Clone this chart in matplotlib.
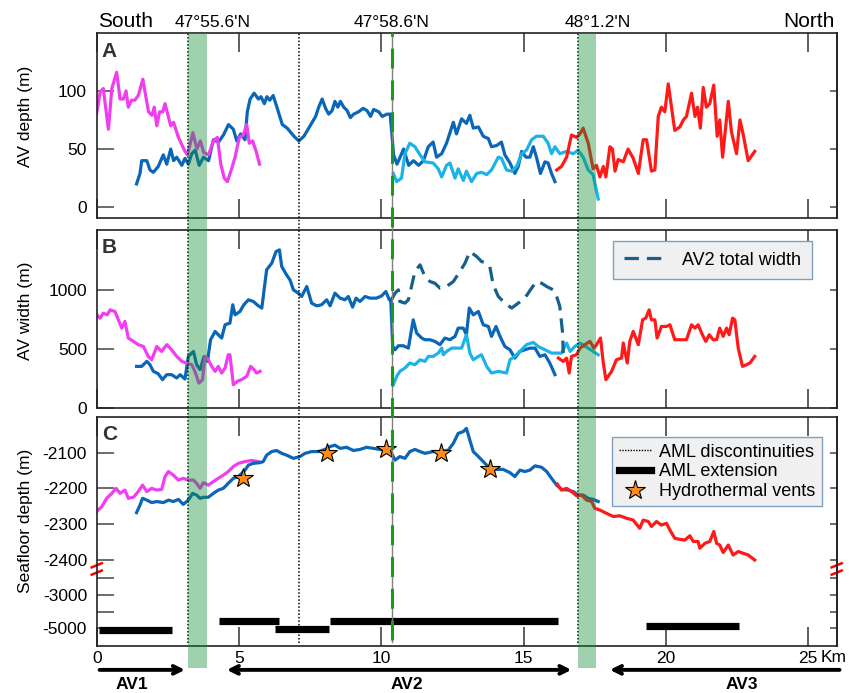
import numpy as np
import matplotlib
matplotlib.use("Agg")
import matplotlib.pyplot as plt
from matplotlib import transforms
from matplotlib.lines import Line2D
from matplotlib.patches import Rectangle

plt.rcParams['font.family'] = ['Liberation Sans', 'DejaVu Sans']

C_AV1 = '#f23cf0'
C_AV2 = '#0b66b8'
C_AV2B = '#1ab4e8'
C_AV3 = '#ff1a1a'
C_TOT = '#175f8c'
C_BAND = '#128e37'

# ---------------- panel A : AV depth (m)
a_av1_km = [0, 0.12, 0.23, 0.41, 0.53, 0.70, 0.82, 0.94, 1.03, 1.11, 1.22, 1.34, 1.46, 1.62, 1.82,
            1.94, 2.02, 2.11, 2.21, 2.32, 2.40, 2.60, 2.70, 2.87, 3.10, 3.19, 3.38, 3.52, 3.64, 3.76,
            3.93, 4.10, 4.24, 4.36, 4.48, 4.59, 4.74, 4.86, 5.01, 5.15, 5.27, 5.36, 5.48, 5.60, 5.72]
a_av1 = [81, 99, 102, 67, 102, 116, 93, 93, 100, 86, 92, 92, 96, 110, 82,
         79, 86, 70, 82, 82, 89, 70, 73, 60, 48, 45, 64, 50, 57, 47,
         45, 57, 60, 37, 25, 22, 33, 43, 60, 62, 71, 55, 57, 48, 37]

a_av2_km = [1.40, 1.52, 1.58, 1.76, 1.87, 1.99, 2.16, 2.34, 2.46, 2.60,
            2.70, 2.81, 2.99, 3.10, 3.22, 3.34, 3.46, 3.60, 3.75, 3.93,
            4.10, 4.28, 4.45, 4.63, 4.80, 4.92, 5.06, 5.21, 5.29, 5.39,
            5.53, 5.68, 5.77, 5.89, 5.98, 6.08, 6.20, 6.33, 6.52, 6.69,
            6.93, 7.10, 7.28, 7.45, 7.69, 7.80, 7.92, 8.04, 8.15, 8.27,
            8.37, 8.47, 8.56, 8.68, 8.80, 8.91, 9.03, 9.20, 9.36, 9.50,
            9.62, 9.73, 9.91, 10.03, 10.20, 10.31, 10.37, 10.43, 10.55, 10.66,
            10.78, 10.96, 11.13, 11.31, 11.48, 11.65, 11.82, 11.94, 12.12, 12.29,
            12.53, 12.64, 12.82, 12.99, 13.11, 13.23, 13.41, 13.58, 13.76, 13.87,
            14.05, 14.22, 14.34, 14.52, 14.69, 14.81, 14.93, 15.08, 15.22, 15.34,
            15.45, 15.59, 15.75, 15.86, 15.98, 16.10]
a_av2 = [20, 29, 40, 40, 32, 30, 35, 45, 37, 50,
         40, 43, 36, 42, 37, 46, 49, 36, 43, 40,
         58, 56, 62, 71, 67, 57, 63, 58, 82, 93,
         98, 93, 95, 89, 95, 92, 96, 86, 71, 68,
         61, 57, 61, 68, 78, 86, 93, 85, 80, 83,
         91, 86, 91, 86, 83, 77, 80, 82, 85, 83,
         78, 84, 82, 78, 80, 80, 63, 45, 37, 43,
         50, 36, 40, 36, 40, 52, 56, 43, 46, 55,
         73, 63, 76, 72, 79, 68, 69, 61, 59, 52,
         53, 56, 45, 38, 29, 35, 48, 43, 43, 52,
         43, 29, 39, 38, 29, 22]

a_av2b_km = [10.42, 10.54, 10.71, 10.83, 11.00, 11.18, 11.36, 11.53, 11.82, 12.00,
             12.12, 12.29, 12.41, 12.59, 12.70, 12.88, 12.99, 13.17, 13.35, 13.52,
             13.70, 13.87, 14.11, 14.22, 14.40, 14.58, 14.75, 14.93, 15.10, 15.28,
             15.45, 15.69, 15.86, 15.98, 16.10, 16.27, 16.51, 16.74, 16.92, 17.09,
             17.27, 17.44, 17.62]
a_av2b = [29, 22, 25, 46, 55, 52, 45, 39, 38, 33,
          26, 36, 38, 25, 33, 23, 31, 22, 29, 30,
          28, 32, 43, 42, 32, 31, 35, 46, 49, 58,
          61, 61, 55, 46, 52, 46, 48, 46, 49, 43,
          32, 28, 7]

a_av3_km = [16.16, 16.33, 16.51, 16.68, 16.86, 16.98, 17.09, 17.27, 17.44, 17.56,
            17.68, 17.80, 17.89, 18.03, 18.12, 18.21, 18.32, 18.50, 18.67, 18.85,
            19.03, 19.20, 19.32, 19.49, 19.61, 19.73, 19.84, 19.96, 20.08, 20.31,
            20.49, 20.61, 20.72, 20.90, 21.02, 21.11, 21.21, 21.31, 21.42, 21.54,
            21.68, 21.80, 21.89, 21.99, 22.19, 22.30, 22.48, 22.60, 22.71, 22.89,
            23.12]
a_av3 = [32, 35, 43, 62, 60, 63, 68, 55, 33, 36,
         26, 35, 26, 52, 50, 31, 41, 39, 50, 42,
         29, 58, 58, 31, 32, 78, 86, 82, 106, 66,
         69, 75, 78, 98, 78, 86, 68, 103, 86, 89,
         105, 61, 75, 43, 91, 65, 46, 75, 63, 40,
         48]

# ---------------- panel B : AV width (m)
b_av1_km = [0, 0.12, 0.23, 0.37, 0.47, 0.64, 0.76, 0.88, 0.99, 1.11,
            1.29, 1.46, 1.64, 1.81, 1.93, 2.11, 2.28, 2.46, 2.63, 2.81,
            2.99, 3.16, 3.34, 3.45, 3.59, 3.72, 3.80, 3.92, 4.04, 4.16,
            4.27, 4.39, 4.51, 4.62, 4.68, 4.80, 4.94, 5.09, 5.27, 5.41,
            5.53, 5.62, 5.74]
b_av1 = [789, 761, 803, 789, 831, 817, 747, 677, 733, 593,
         565, 537, 522, 438, 410, 522, 480, 537, 494, 438,
         396, 382, 368, 312, 213, 242, 438, 410, 354, 312,
         354, 298, 340, 452, 452, 199, 228, 242, 270, 354,
         326, 298, 312]

b_av2_km = [1.40, 1.58, 1.76, 1.87, 1.99, 2.16, 2.31, 2.46, 2.63, 2.81,
            2.93, 3.10, 3.22, 3.40, 3.51, 3.63, 3.77, 3.89, 4.00, 4.16,
            4.27, 4.39, 4.51, 4.68, 4.78, 4.86, 5.03, 5.17, 5.33, 5.50,
            5.68, 5.80, 5.97, 6.15, 6.30, 6.42, 6.50, 6.67, 6.79, 6.91,
            7.08, 7.20, 7.38, 7.55, 7.73, 7.90, 8.08, 8.20, 8.37, 8.55,
            8.72, 8.84, 8.99, 9.11, 9.25, 9.43, 9.60, 9.83, 10.01, 10.16,
            10.28, 10.33, 10.40, 10.48, 10.60, 10.77, 10.95, 11.12, 11.24, 11.42,
            11.53, 11.71, 11.88, 12.06, 12.23, 12.41, 12.59, 12.70, 12.88, 12.99,
            13.09, 13.23, 13.41, 13.58, 13.76, 13.87, 14.03, 14.17, 14.34, 14.52,
            14.69, 14.87, 15.04, 15.22, 15.40, 15.57, 15.75, 15.92, 16.10]
b_av2 = [354, 354, 396, 368, 312, 292, 242, 284, 284, 256,
         284, 247, 438, 480, 368, 326, 438, 396, 579, 649,
         621, 593, 705, 719, 874, 789, 817, 874, 916, 902,
         865, 846, 1169, 1225, 1323, 1337, 1197, 1126, 1084, 1000,
         972, 944, 1028, 888, 865, 874, 916, 865, 972, 930,
         916, 944, 854, 930, 902, 944, 930, 930, 949, 986,
         916, 921, 522, 494, 528, 528, 508, 747, 635, 593,
         579, 579, 565, 537, 593, 579, 607, 677, 677, 621,
         846, 789, 817, 705, 691, 607, 691, 607, 522, 494,
         424, 480, 494, 508, 508, 438, 452, 382, 284]

b_av2b_km = [10.42, 10.54, 10.65, 10.83, 11.00, 11.18, 11.36, 11.53, 11.65, 11.82,
             12.00, 12.12, 12.18, 12.29, 12.47, 12.64, 12.82, 12.99, 13.11, 13.23,
             13.41, 13.52, 13.70, 13.87, 14.11, 14.40, 14.52, 14.69, 14.87, 15.10,
             15.34, 15.51, 15.75, 15.98, 16.33, 16.51, 16.63, 16.80, 16.98, 17.27,
             17.44, 17.62]
b_av2b = [199, 270, 312, 340, 382, 368, 410, 396, 438, 438,
          466, 508, 452, 480, 508, 508, 508, 621, 466, 410,
          438, 452, 354, 298, 312, 298, 410, 438, 480, 537,
          556, 522, 494, 466, 466, 551, 480, 522, 551, 508,
          480, 452]

b_total_km = [10.36, 10.48, 10.60, 10.65, 10.83, 10.95, 11.06, 11.18, 11.36, 11.53,
              11.71, 11.88, 12.06, 12.29, 12.53, 12.76, 12.94, 13.11, 13.35, 13.52,
              13.70, 13.81, 13.93, 14.11, 14.34, 14.58, 14.81, 15.04, 15.28, 15.45,
              15.63, 15.81, 16.04, 16.16, 16.27, 16.37, 16.39]
b_total = [916, 972, 1000, 902, 888, 916, 1028, 1155, 1211, 1112,
           1070, 1056, 1014, 1028, 1070, 1155, 1225, 1323, 1281, 1239,
           1225, 1197, 1042, 944, 888, 846, 888, 930, 1014, 1070,
           1056, 1028, 1000, 944, 860, 635, 466]

b_av3_km = [16.22, 16.39, 16.51, 16.60, 16.68, 16.86, 16.98, 17.15, 17.33, 17.47,
            17.56, 17.70, 17.80, 17.89, 18.09, 18.26, 18.44, 18.50, 18.64, 18.73,
            18.85, 19.03, 19.18, 19.29, 19.41, 19.49, 19.61, 19.69, 19.84, 20.02,
            20.14, 20.31, 20.49, 20.72, 20.90, 21.02, 21.13, 21.28, 21.40, 21.52,
            21.66, 21.78, 21.89, 22.01, 22.13, 22.22, 22.34, 22.42, 22.54, 22.69,
            22.83, 22.95, 23.12]
b_av3 = [424, 396, 424, 298, 438, 452, 508, 537, 565, 508,
         537, 593, 382, 242, 312, 410, 424, 551, 382, 565,
         649, 537, 747, 761, 831, 747, 747, 593, 691, 691,
         705, 579, 579, 579, 705, 677, 705, 621, 565, 621,
         579, 579, 677, 607, 677, 621, 761, 747, 508, 354,
         368, 382, 438]

# ---------------- panel C : seafloor depth (m)
c_av1_km = [0, 0.18, 0.35, 0.53, 0.68, 0.82, 0.99, 1.11, 1.29, 1.46,
            1.61, 1.76, 1.93, 2.11, 2.28, 2.40, 2.52, 2.69, 2.87, 3.04,
            3.22, 3.40, 3.51, 3.63, 3.75, 3.92, 4.10, 4.27, 4.45, 4.62,
            4.80, 4.98, 5.21, 5.44, 5.68]
c_av1 = [-2265, -2251, -2228, -2214, -2200, -2214, -2205, -2228, -2225, -2209,
         -2191, -2209, -2200, -2205, -2203, -2167, -2153, -2163, -2177, -2172,
         -2177, -2177, -2186, -2200, -2184, -2191, -2181, -2172, -2163, -2153,
         -2139, -2130, -2125, -2122, -2125]

c_av2_km = [1.40, 1.52, 1.61, 1.76, 1.93, 2.11, 2.34, 2.52, 2.69, 2.87,
            3.04, 3.22, 3.37, 3.51, 3.63, 3.75, 3.92, 4.10, 4.27, 4.45,
            4.62, 4.80, 4.98, 5.21, 5.33, 5.50, 5.74, 5.85, 5.97, 6.15,
            6.32, 6.50, 6.67, 6.91, 7.14, 7.32, 7.55, 7.79, 8.02, 8.20,
            8.37, 8.55, 8.78, 9.02, 9.25, 9.48, 9.72, 9.95, 10.18, 10.36,
            10.48, 10.65, 10.83, 11.00, 11.18, 11.36, 11.53, 11.82, 12.09, 12.35,
            12.53, 12.70, 12.88, 12.99, 13.11, 13.23, 13.41, 13.58, 13.81, 14.05,
            14.28, 14.52, 14.69, 14.87, 15.04, 15.22, 15.40, 15.63, 15.81, 15.98,
            16.16, 16.33, 16.57, 16.74, 16.92, 17.09, 17.27, 17.44, 17.62]
c_av2 = [-2268, -2247, -2228, -2233, -2240, -2237, -2240, -2233, -2237, -2231,
         -2245, -2233, -2214, -2219, -2228, -2225, -2225, -2214, -2205, -2200,
         -2186, -2172, -2167, -2149, -2135, -2130, -2128, -2125, -2107, -2097,
         -2094, -2102, -2107, -2116, -2111, -2102, -2097, -2097, -2091, -2083,
         -2079, -2088, -2085, -2094, -2091, -2085, -2088, -2091, -2093, -2102,
         -2121, -2111, -2116, -2097, -2091, -2097, -2102, -2097, -2097, -2093,
         -2074, -2046, -2041, -2032, -2065, -2097, -2111, -2125, -2144, -2147,
         -2147, -2156, -2167, -2149, -2153, -2149, -2137, -2141, -2153, -2172,
         -2191, -2203, -2205, -2209, -2219, -2219, -2228, -2231, -2237]

c_av3_km = [16.18, 16.33, 16.51, 16.68, 16.86, 17.04, 17.21, 17.39, 17.50, 17.68,
            17.91, 18.15, 18.38, 18.62, 18.85, 19.08, 19.20, 19.38, 19.49, 19.67,
            19.84, 20.02, 20.14, 20.31, 20.49, 20.66, 20.84, 20.96, 21.13, 21.19,
            21.37, 21.54, 21.68, 21.78, 21.89, 22.01, 22.19, 22.36, 22.54, 22.71,
            22.89, 23.12]
c_av3 = [-2188, -2205, -2200, -2209, -2221, -2219, -2233, -2237, -2256, -2261,
         -2270, -2279, -2277, -2284, -2289, -2312, -2289, -2293, -2307, -2293,
         -2303, -2298, -2317, -2340, -2343, -2345, -2333, -2349, -2349, -2368,
         -2354, -2349, -2321, -2354, -2359, -2380, -2359, -2387, -2377, -2382,
         -2387, -2401]

vent_km = [5.15, 8.08, 10.16, 12.09, 13.81]
vent_depth = [-2172, -2100, -2090, -2100, -2146]

aml_start = [0.08, 4.30, 6.28, 8.20, 19.29]
aml_end = [2.63, 6.42, 8.15, 16.21, 22.55]
aml_depth = [-5110, -4560, -5050, -4560, -4850]

aml_gaps = [3.2, 7.1, 16.9]
overlap_zones = [(3.2, 3.86), (16.9, 17.56)]
av2_split = 10.36

lat_km = [4.07, 10.36, 17.6]
lat_labels = ["47°55.6'N", "47°58.6'N", "48°1.2'N"]


def brk(d):
    # broken depth axis: -3000 and -5000 squeezed below -2400
    return np.interp(d, [-6000, -5000, -3000, -2400, -2000],
                     [-2638, -2592, -2500, -2400, -2000])


fig = plt.figure(figsize=(8.53, 6.93), dpi=100)
L, W = 0.1134, 0.8675
axA = fig.add_axes([L, 0.6859, W, 0.2669])
axB = fig.add_axes([L, 0.4108, W, 0.2573], sharex=axA)
axC = fig.add_axes([L, 0.0683, W, 0.3295], sharex=axA)


def style(ax, yticks, minor=()):
    ax.set_xlim(0, 26)
    ax.set_xticks([0, 5, 10, 15, 20, 25])
    ax.tick_params(axis='x', direction='in', length=13.5, width=1.1, top=True,
                   bottom=True, labelbottom=False, color='#333')
    ax.set_yticks(yticks)
    ax.set_yticks(minor, minor=True)
    ax.tick_params(axis='y', which='both', direction='in', length=12, width=1.1,
                   left=True, right=False, pad=7, labelsize=12.5, color='#444')
    sec = ax.secondary_yaxis('right')
    sec.set_yticks(list(yticks) + list(minor))
    sec.tick_params(direction='in', length=5, width=1.1, labelright=False, color='#444')
    sec.spines['right'].set_linewidth(1.2)
    sec.spines['right'].set_color('#222')
    for s in ax.spines.values():
        s.set_linewidth(1.2)
        s.set_color('#222')


lw = 2.3
# A
axA.plot(a_av2_km, a_av2, color=C_AV2, lw=lw)
axA.plot(a_av2b_km, a_av2b, color=C_AV2B, lw=lw)
axA.plot(a_av1_km, a_av1, color=C_AV1, lw=lw)
axA.plot(a_av3_km, a_av3, color=C_AV3, lw=lw)
axA.set_ylim(-9, 150)
style(axA, [0, 50, 100])
axA.set_ylabel('AV depth (m)', fontsize=12.5)

# B
axB.plot(b_av2_km, b_av2, color=C_AV2, lw=lw)
axB.plot(b_av2b_km, b_av2b, color=C_AV2B, lw=lw)
axB.plot(b_total_km, b_total, color=C_TOT, lw=lw, ls=(0, (4.5, 2.5)))
axB.plot(b_av1_km, b_av1, color=C_AV1, lw=lw)
axB.plot(b_av3_km, b_av3, color=C_AV3, lw=lw)
axB.set_ylim(0, 1505)
style(axB, [0, 500, 1000])
axB.set_ylabel('AV width (m)', fontsize=12.5)

# C
axC.plot(c_av1_km, c_av1, color=C_AV1, lw=lw)
axC.plot(c_av2_km, c_av2, color=C_AV2, lw=lw)
axC.plot(c_av3_km, c_av3, color=C_AV3, lw=lw)
for x0, x1, d in zip(aml_start, aml_end, aml_depth):
    yb = brk(d)
    axC.plot([x0, x1], [yb, yb], color='black', lw=5.2, solid_capstyle='butt')
axC.plot(vent_km, vent_depth, ls='none', marker='*', ms=15, mfc='#ff8c1a',
         mec='black', mew=0.8, zorder=6)
axC.set_ylim(-2641, -2001)
c_major = brk(np.array([-2100, -2200, -2300, -2400, -3000, -5000]))
style(axC, c_major, minor=[-2450, -2546])
axC.set_yticklabels(['-2100', '-2200', '-2300', '-2400', '-3000', '-5000'])
axC.tick_params(axis='x', labelbottom=True, labelsize=12.5, pad=4)
axC.set_xticklabels(['0', '5', '10', '15', '20', '25'])
axC.set_ylabel('Seafloor depth (m)', fontsize=12.5)
bx = transforms.blended_transform_factory(axC.transData, axC.transAxes)
axC.text(25.42, -0.05, 'Km', transform=bx, ha='left', va='center', fontsize=12.5)

for ax in (axA, axB, axC):
    ax.yaxis.set_label_coords(-0.086, 0.545)

for ax, letter, yy in ((axA, 'A', 0.95), (axB, 'B', 0.955), (axC, 'C', 0.966)):
    ax.text(0.007, yy, letter, transform=ax.transAxes, fontsize=15,
            fontweight='bold', va='top', ha='left', color='#333')

# break marks on the depth axis
for xa in (0.0, 1.0):
    for dy in (-0.016, 0.016):
        axC.plot([xa - 0.0068, xa + 0.0068], [0.336 + dy - 0.009, 0.336 + dy + 0.009],
                 transform=axC.transAxes, color='red', lw=1.8, clip_on=False)

# legends
hB = Line2D([], [], color=C_TOT, lw=lw, ls=(0, (4.5, 2.5)))
legB = axB.legend([hB], ['AV2 total width'], loc='upper right', bbox_to_anchor=(0.966, 0.94),
                  borderaxespad=0, fancybox=False, facecolor='#f0f0f0', edgecolor='#7f9fc0',
                  framealpha=1, fontsize=13, handlelength=2.4, borderpad=0.6)
legB.get_frame().set_linewidth(1.0)

hC = [Line2D([], [], color='black', lw=1.0, ls=(0, (1, 1))),
      Line2D([], [], color='black', lw=5.2),
      Line2D([], [], ls='none', marker='*', ms=15, mfc='#ff8c1a', mec='black', mew=0.8)]
legC = axC.legend(hC, ['AML discontinuities', 'AML extension', 'Hydrothermal vents'],
                  loc='upper right', bbox_to_anchor=(0.98, 0.9125), borderaxespad=0,
                  fancybox=False, facecolor='#f0f0f0', edgecolor='#7f9fc0', framealpha=1,
                  fontsize=13, handlelength=1.8, handletextpad=0.45, labelspacing=0.15,
                  borderpad=0.35, numpoints=1)
legC.get_frame().set_linewidth(1.0)

# figure-wide overlays: AML discontinuities, AV2 split line, overlap bands
fx = transforms.blended_transform_factory(axC.transData, fig.transFigure)
y_top = 0.9528
for xg in aml_gaps:
    fig.add_artist(Line2D([xg, xg], [0.072, y_top], transform=fx, color='black',
                          lw=1.1, ls=(0, (1, 1.3)), zorder=4))
fig.add_artist(Line2D([av2_split + 0.02] * 2, [0.073, y_top], transform=fx, color='#808080',
                      lw=1.0, zorder=4))
fig.add_artist(Line2D([av2_split] * 2, [0.076, y_top], transform=fx, color='#1a9a1a',
                      lw=2.2, ls=(0, (6.5, 3.9)), zorder=4))
for x0, x1 in overlap_zones:
    fig.add_artist(Rectangle((x0, 0.0361), x1 - x0, y_top - 0.0361, transform=fx,
                             facecolor=C_BAND, alpha=0.4, lw=0, zorder=5))

# top annotations
ft = transforms.blended_transform_factory(axA.transData, fig.transFigure)
fig.text(0.1149, 0.9615, 'South', fontsize=15, ha='left', va='baseline')
fig.text(0.978, 0.9615, 'North', fontsize=15, ha='right', va='baseline')
for xk, lab in zip(lat_km, lat_labels):
    fig.text(xk, 0.9615, lab, transform=ft, fontsize=12.5, ha='center', va='baseline')

# AV segments arrows
arrows = [(0.1, 3.1, '->'), (4.57, 16.68, '<->'), (18.03, 26.1, '<-')]
for x0, x1, st in arrows:
    axC.annotate('', xy=(x1, -0.106), xytext=(x0, -0.106), xycoords=bx, textcoords=bx,
                 arrowprops=dict(arrowstyle=st, lw=2.8, color='black', shrinkA=0,
                                 shrinkB=0, mutation_scale=14), annotation_clip=False)
for xk, lab in zip([1.23, 10.9, 22.65], ['AV1', 'AV2', 'AV3']):
    axC.text(xk, -0.172, lab, transform=bx, fontsize=12.5, fontweight='bold',
             ha='center', va='center')

fig.savefig('out.png', dpi=100)
